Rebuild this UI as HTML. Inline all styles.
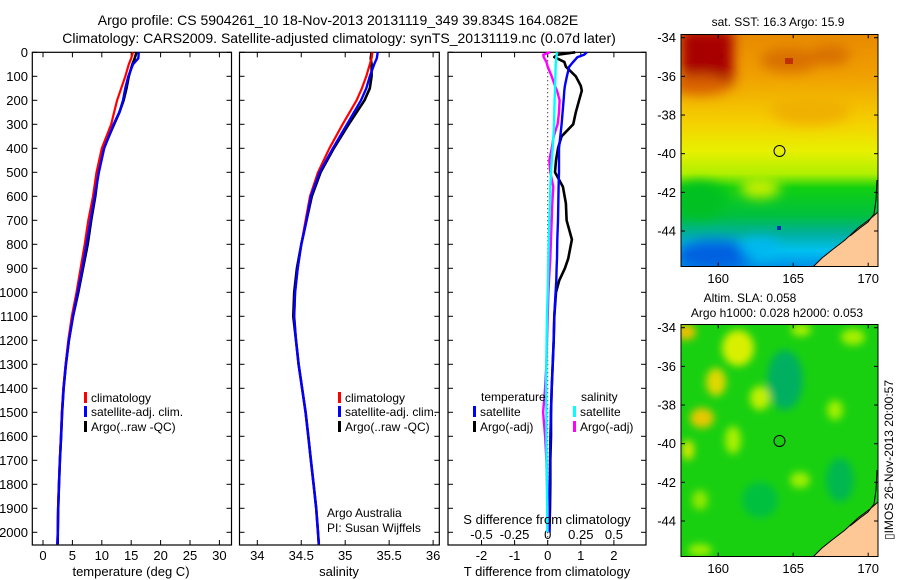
<!DOCTYPE html>
<html><head><meta charset="utf-8">
<style>
html,body{margin:0;padding:0;background:#fff;}
svg{display:block;font-family:"Liberation Sans",Arial,sans-serif;}
text{fill:#000;}
</style></head>
<body>
<svg id="fig" width="900" height="580" viewBox="0 0 900 580" xmlns="http://www.w3.org/2000/svg">
<defs>
<linearGradient id="sstGrad" x1="0" y1="0" x2="0" y2="1">
<stop offset="0" stop-color="#e88a00"/><stop offset="0.18" stop-color="#f0a000"/>
<stop offset="0.38" stop-color="#f5d000"/><stop offset="0.5" stop-color="#e8f000"/>
<stop offset="0.6" stop-color="#b0f000"/><stop offset="0.66" stop-color="#10d010"/>
<stop offset="0.78" stop-color="#00c040"/><stop offset="0.86" stop-color="#00b0a0"/>
<stop offset="0.93" stop-color="#00c0f0"/><stop offset="1" stop-color="#0090e8"/>
</linearGradient>
<filter id="blur4"><feGaussianBlur stdDeviation="4"/></filter>
<filter id="blur6"><feGaussianBlur stdDeviation="6"/></filter>
<clipPath id="clipTop"><rect x="681" y="34" width="197" height="233"/></clipPath>
<clipPath id="clipBot"><rect x="681" y="324" width="197" height="233"/></clipPath>
</defs>

<text x="338" y="25" font-size="14" text-anchor="middle">Argo profile: CS 5904261_10 18-Nov-2013 20131119_349 39.834S 164.082E</text>
<text x="339" y="43" font-size="14" text-anchor="middle">Climatology: CARS2009. Satellite-adjusted climatology: synTS_20131119.nc (0.07d later)</text>

<g id="panels"></g>

<!-- SST map -->
<g>
<g clip-path="url(#clipTop)">
<rect x="681" y="34" width="197" height="233" fill="url(#sstGrad)"/>
<g filter="url(#blur6)">
<rect x="681" y="30" width="52" height="56" fill="#a80000"/>
<ellipse cx="700" cy="85" rx="30" ry="10" fill="#d86000"/>
<ellipse cx="790" cy="60" rx="30" ry="12" fill="#d87000"/>
<ellipse cx="830" cy="55" rx="20" ry="10" fill="#d87000"/>
<ellipse cx="810" cy="110" rx="40" ry="15" fill="#f0b000"/>
<ellipse cx="700" cy="200" rx="25" ry="18" fill="#00c020"/>
<ellipse cx="760" cy="188" rx="20" ry="10" fill="#c8f000"/>
<ellipse cx="715" cy="255" rx="40" ry="15" fill="#0060e0"/>
<ellipse cx="760" cy="248" rx="20" ry="10" fill="#00b8f0"/>
</g>
<rect x="719" y="54" width="4" height="4" fill="#a00000"/>
<rect x="785" y="58" width="8" height="6" fill="#c03000"/>
<rect x="777" y="226" width="4" height="4" fill="#0030b0"/>
<polygon points="813,267 822,258 832,250 845,240 858,228 870,219 878,212 878,267" fill="#fdc896" stroke="#000" stroke-width="1"/>
<polyline points="850,236 860,228 868,222 874,214 876,200 877,180" fill="none" stroke="#000" stroke-width="1"/>
</g>
<rect x="681" y="34.5" width="197" height="232" fill="none" stroke="#000" stroke-width="1"/>
<circle cx="779.5" cy="151" r="5.5" fill="none" stroke="#000" stroke-width="1"/>
</g>
<text x="778" y="26" font-size="12" text-anchor="middle">sat. SST: 16.3 Argo: 15.9</text>

<!-- SLA map -->
<g>
<g clip-path="url(#clipBot)">
<rect x="681" y="324" width="197" height="233" fill="#18d010"/>
<g filter="url(#blur4)">
<ellipse cx="686" cy="332" rx="10" ry="8" fill="#f0c000"/>
<ellipse cx="738" cy="348" rx="16" ry="18" fill="#d8f000"/>
<ellipse cx="716" cy="382" rx="10" ry="14" fill="#e0d800"/>
<ellipse cx="702" cy="418" rx="12" ry="10" fill="#e8c800"/>
<ellipse cx="760" cy="398" rx="10" ry="12" fill="#c0f000"/>
<ellipse cx="801" cy="330" rx="10" ry="6" fill="#b0f000"/>
<ellipse cx="853" cy="337" rx="12" ry="8" fill="#a8f000"/>
<ellipse cx="733" cy="440" rx="8" ry="14" fill="#a8f000"/>
<ellipse cx="688" cy="450" rx="6" ry="10" fill="#d8e800"/>
<ellipse cx="835" cy="410" rx="8" ry="10" fill="#a0f000"/>
<ellipse cx="800" cy="480" rx="10" ry="8" fill="#a0f000"/>
<ellipse cx="700" cy="500" rx="8" ry="10" fill="#90e800"/>
<ellipse cx="700" cy="550" rx="12" ry="6" fill="#a0f000"/>
<ellipse cx="785" cy="380" rx="18" ry="30" fill="#00b060"/>
<ellipse cx="840" cy="480" rx="14" ry="22" fill="#00b850"/>
<ellipse cx="760" cy="500" rx="18" ry="18" fill="#00c040"/>
</g>
<polygon points="813,557 822,548 832,540 845,530 858,518 870,509 878,502 878,557" fill="#fdc896" stroke="#000" stroke-width="1"/>
<polyline points="850,526 860,518 868,512 874,504 876,490 877,470" fill="none" stroke="#000" stroke-width="1"/>
</g>
<rect x="681" y="324.5" width="197" height="232" fill="none" stroke="#000" stroke-width="1"/>
<circle cx="779.5" cy="441" r="5.5" fill="none" stroke="#000" stroke-width="1"/>
</g>
<text x="750" y="302" font-size="12" text-anchor="middle">Altim. SLA: 0.058</text>
<text x="777" y="317" font-size="12" text-anchor="middle">Argo h1000: 0.028 h2000: 0.053</text>
<text transform="translate(893,460) rotate(-90)" font-size="12" text-anchor="middle">▯IMOS 26-Nov-2013 20:00:57</text>
<g id="mapaxes"></g>
</svg>

<script>
// ---- data ----
const depths = [0,25,50,100,150,200,250,300,400,500,600,700,800,900,1000,1100,1200,1300,1400,1500,1600,1700,1800,1900,2000,2050];
const tempClim = [15.3,15.0,14.6,14.0,13.3,12.6,12.1,11.6,10.0,9.1,8.5,7.7,7.1,6.4,5.7,4.9,4.3,3.85,3.45,3.2,3.05,2.85,2.7,2.55,2.5,2.4];
const tempSat  = [16.3,16.2,15.3,14.5,14.0,13.6,13.0,12.0,10.4,9.5,8.8,8.1,7.4,6.7,5.9,5.1,4.4,3.9,3.5,3.25,3.08,2.88,2.72,2.58,2.52,2.45];
const tempArgo = [15.9,15.6,15.2,14.6,14.2,13.7,13.0,12.1,10.3,9.4,8.9,8.2,7.6,6.8,6.0,5.1,4.4,3.9,3.5,3.25,3.08,2.88,2.72,2.58,2.52,2.5];
const salClim = [35.31,35.30,35.28,35.24,35.19,35.13,35.05,34.97,34.82,34.69,34.60,34.55,34.50,34.46,34.43,34.42,34.44,34.47,34.51,34.55,34.58,34.61,34.64,34.67,34.69,34.70];
const salSat  = [35.37,35.36,35.33,35.28,35.24,35.18,35.10,35.02,34.86,34.71,34.61,34.56,34.50,34.46,34.43,34.42,34.44,34.47,34.51,34.55,34.58,34.61,34.64,34.67,34.69,34.70];
const salArgo = [35.30,35.29,35.30,35.30,35.28,35.22,35.13,35.04,34.87,34.72,34.62,34.56,34.50,34.45,34.42,34.41,34.44,34.47,34.51,34.55,34.58,34.61,34.64,34.67,34.69,34.70];
const diffDepths = [0,10,20,40,60,100,140,160,200,250,300,350,400,450,500,560,630,700,780,860,900,950,1000,1100,1200,1300,1400,1500,1600,1700,1800,1900,2000];
const tDiffArgo = [0.83,0.3,0.2,0.5,0.55,0.85,1.0,1.03,0.95,0.85,0.77,0.42,0.31,0.25,0.22,0.46,0.55,0.57,0.73,0.62,0.52,0.35,0.25,0.2,0.18,0.15,0.12,0.1,0.1,0.08,0.08,0.07,0.05];
const tDiffSat  = [1.18,1.1,0.9,0.77,0.65,0.58,0.52,0.5,0.48,0.45,0.42,0.38,0.34,0.34,0.34,0.33,0.32,0.31,0.29,0.28,0.27,0.26,0.24,0.2,0.18,0.15,0.12,0.1,0.08,0.07,0.06,0.05,0.05];
const sDiffSat  = [0.068,0.068,0.066,0.062,0.06,0.058,0.055,0.055,0.052,0.05,0.048,0.043,0.038,0.031,0.025,0.02,0.017,0.012,0.008,0.005,0.004,0.002,0,-0.005,-0.008,-0.01,-0.012,-0.01,-0.01,-0.008,-0.005,-0.004,-0.003];
const sDiffArgo = [0.017,-0.033,-0.03,-0.01,0.0,0.03,0.055,0.07,0.09,0.085,0.075,0.045,0.03,0.012,0.02,0.042,0.035,0.03,0.025,0.02,0.015,0.01,0.005,0,-0.005,-0.01,-0.02,-0.035,-0.02,-0.01,-0.005,0,0];
const depthTicks = [0,100,200,300,400,500,600,700,800,900,1000,1100,1200,1300,1400,1500,1600,1700,1800,1900,2000];
const tempTicks = [0,5,10,15,20,25,30];
const salTicks = [34,34.5,35,35.5,36];
const salTickLabels = ["34","34.5","35","35.5","36"];
const tdTicks = [-2,-1,0,1,2];
const sdTicks = [-0.5,-0.25,0,0.25,0.5];
const sdTickLabels = ["-0.5","-0.25","0","0.25","0.5"];
const lonTicks = [160,165,170];
const latTicks = [-34,-36,-38,-40,-42,-44];

const NS = "http://www.w3.org/2000/svg";
const P = document.getElementById('panels');
const TOP = 52.3, BOT = 545;
const yD = d => TOP + d * 0.24;
const xT = t => 43 + t * 5.88;
const xS = s => 257.3 + (s - 34) * 87.9;
const xTD = v => 547.7 + v * 33.1;
const xSD = v => 547.7 + v * 132.4;

function el(tag, attrs, parent, txt){
  const e = document.createElementNS(NS, tag);
  for (const k in attrs) e.setAttribute(k, attrs[k]);
  if (txt !== undefined) e.textContent = txt;
  (parent || P).appendChild(e);
  return e;
}
function frame(x0, x1, name){
  const r = el('rect', {x:x0, y:TOP, width:x1-x0, height:BOT-TOP, fill:'none', stroke:'#000', 'stroke-width':1.2});
  
  
  depthTicks.forEach(d => {
    const t1 = el('line', {x1:x0, x2:x0+5, y1:yD(d), y2:yD(d), stroke:'#000'});
    
    
    const t2 = el('line', {x1:x1, x2:x1-5, y1:yD(d), y2:yD(d), stroke:'#000'});
    
    
  });
}
function xticks(vals, labels, fx, ly, name){
  vals.forEach((v, i) => {
    const a = el('line', {x1:fx(v), x2:fx(v), y1:BOT, y2:BOT-5, stroke:'#000'});
    
    
    const b = el('line', {x1:fx(v), x2:fx(v), y1:TOP, y2:TOP+5, stroke:'#000'});
    
    
    const t = el('text', {x:fx(v), y:ly, 'font-size':13, 'text-anchor':'middle'}, null, labels[i]);
    
    
  });
}
function line(xs, ds, fx, color, w, name){
  const pts = xs.map((v, i) => fx(v).toFixed(1) + ',' + yD(ds[i]).toFixed(1)).join(' ');
  const p = el('polyline', {points:pts, fill:'none', stroke:color, 'stroke-width':w, 'stroke-linejoin':'round'});
  
  
}
function legend(x, y, color, label, name){
  const m = el('rect', {x:x, y:y-10, width:3, height:11, fill:color});
  
  
  const t = el('text', {x:x+7, y:y, 'font-size':12}, null, label);
  
  
}

// Panel 1: temperature
frame(32.3, 231.5, 'temperature-panel-frame');
depthTicks.forEach(d => {
  const t = el('text', {x:28, y:yD(d)+4.5, 'font-size':13, 'text-anchor':'end'}, null, String(d));
  
  
});
xticks(tempTicks, tempTicks.map(String), xT, 560, 'temperature');
line(tempArgo, depths, xT, '#000', 2.6, 'temperature-argo-line');
line(tempClim, depths, xT, '#f00', 2.2, 'temperature-climatology-line');
line(tempSat, depths, xT, '#00f', 2.4, 'temperature-satellite-line');
legend(84, 402, '#f00', 'climatology', 'legend-climatology');
legend(84, 416, '#00f', 'satellite-adj. clim.', 'legend-satellite-adj');
legend(84, 431, '#000', 'Argo(..raw -QC)', 'legend-argo');
let t1 = el('text', {x:131, y:576, 'font-size':13, 'text-anchor':'middle'}, null, 'temperature (deg C)');



// Panel 2: salinity
frame(239.5, 439.3, 'salinity-panel-frame');
xticks(salTicks, salTickLabels, xS, 560, 'salinity');
line(salArgo, depths, xS, '#000', 2.6, 'salinity-argo-line');
line(salClim, depths, xS, '#f00', 2.2, 'salinity-climatology-line');
line(salSat, depths, xS, '#00f', 2.4, 'salinity-satellite-line');
legend(338, 402, '#f00', 'climatology', 'legend-climatology-2');
legend(338, 416, '#00f', 'satellite-adj. clim.', 'legend-satellite-adj-2');
legend(338, 431, '#000', 'Argo(..raw -QC)', 'legend-argo-2');
let t2 = el('text', {x:339, y:576, 'font-size':13, 'text-anchor':'middle'}, null, 'salinity');


let t3 = el('text', {x:327, y:517, 'font-size':12}, null, 'Argo Australia');


let t4 = el('text', {x:327, y:532, 'font-size':12}, null, 'PI: Susan Wijffels');



// Panel 3: differences
frame(448, 646, 'difference-panel-frame');
let z = el('line', {x1:xTD(0), x2:xTD(0), y1:TOP, y2:BOT, stroke:'#000', 'stroke-dasharray':'1,3'});


xticks(tdTicks, tdTicks.map(String), xTD, 560, 't-difference');
sdTicks.forEach((v, i) => {
  const t = el('text', {x:xSD(v), y:539, 'font-size':13, 'text-anchor':'middle'}, null, sdTickLabels[i]);
  
  
});
line(tDiffArgo, diffDepths, xTD, '#000', 2.6, 't-difference-argo-line');
line(tDiffSat, diffDepths, xTD, '#00f', 2.4, 't-difference-satellite-line');
line(sDiffArgo, diffDepths, xSD, '#f0f', 2.4, 's-difference-argo-line');
line(sDiffSat, diffDepths, xSD, '#0ff', 2.4, 's-difference-satellite-line');
let t5 = el('text', {x:481, y:401, 'font-size':12}, null, 'temperature');


let t6 = el('text', {x:581, y:401, 'font-size':12}, null, 'salinity');


legend(473, 416, '#00f', 'satellite', 'legend-t-satellite');
legend(473, 431, '#000', 'Argo(-adj)', 'legend-t-argo');
legend(573, 416, '#0ff', 'satellite', 'legend-s-satellite');
legend(573, 431, '#f0f', 'Argo(-adj)', 'legend-s-argo');
let t7 = el('text', {x:547, y:524, 'font-size':13, 'text-anchor':'middle'}, null, 'S difference from climatology');


let t8 = el('text', {x:547, y:576, 'font-size':13, 'text-anchor':'middle'}, null, 'T difference from climatology');



// map axes
const MA = document.getElementById('mapaxes');
const xLon = l => 680.7 + (l - 157.5) * 15;
[[34.3, 266.7, 37.7, 283], [324.3, 556.7, 327.7, 573]].forEach(([top, bot, lat0, ly]) => {
  const yLat = la => lat0 + (-34 - la) * 19.33;
  lonTicks.forEach(l => {
    const a = el('line', {x1:xLon(l), x2:xLon(l), y1:bot, y2:bot-4, stroke:'#000'}, MA);
    
    
    const b = el('line', {x1:xLon(l), x2:xLon(l), y1:top, y2:top+4, stroke:'#000'}, MA);
    
    
    const t = el('text', {x:xLon(l), y:ly, 'font-size':13, 'text-anchor':'middle'}, MA, String(l));
    
    
  });
  latTicks.forEach(la => {
    const a = el('line', {x1:681, x2:685, y1:yLat(la), y2:yLat(la), stroke:'#000'}, MA);
    
    
    const b = el('line', {x1:878, x2:874, y1:yLat(la), y2:yLat(la), stroke:'#000'}, MA);
    
    
    const t = el('text', {x:676, y:yLat(la)+4.5, 'font-size':13, 'text-anchor':'end'}, MA, String(la));
    
    
  });
});
</script>
</body></html>
